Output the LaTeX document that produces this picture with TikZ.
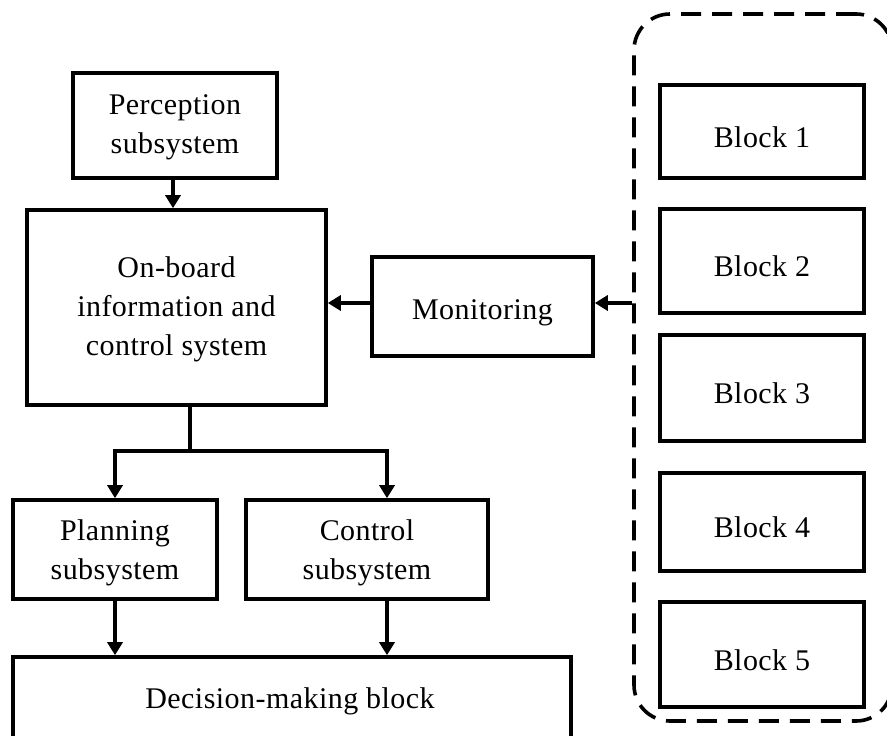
\documentclass[tikz,border=0pt]{standalone}
\usepackage{fontspec}
\setmainfont[LetterSpace=1.5]{Liberation Serif}
\usetikzlibrary{arrows.meta}

\begin{document}
\begin{tikzpicture}[x=1pt,y=-1pt,
  box/.style={draw, line width=3.6pt, rectangle, inner sep=0pt},
  txt/.style={font=\fontsize{30}{39}\selectfont, align=center, inner sep=0pt,
              execute at begin node=\strut, execute at end node=\strut},
  arr/.style={line width=3.6pt, -{Triangle[length=13pt,width=15pt]}},
  link/.style={line width=3.6pt},
  group/.style={draw, line width=3.6pt, rectangle, rounded corners=36pt,
                dash pattern=on 20pt off 11pt}]
  \useasboundingbox (0,0) rectangle (887,736);

  % frames of the main chain
  \node[box, minimum width=204pt, minimum height=105pt] (perc) at (175,125.5) {};
  \node[box, minimum width=299pt, minimum height=195pt] (onb) at (176.5,307.5) {};
  \node[box, minimum width=221pt, minimum height=99pt] (mon) at (482.5,306.5) {};
  \node[box, minimum width=204pt, minimum height=99pt] (plan) at (115,549.5) {};
  \node[box, minimum width=242pt, minimum height=99pt] (ctrl) at (367,549.5) {};
  \node[box, minimum width=558pt, minimum height=88pt] (dec) at (292,701) {};

  % captions of the main chain
  \node[txt] (perc-t) at ([yshift=-4pt]perc.center) {Perception\\subsystem};
  \node[txt] (onb-t)  at ([yshift=-4pt]onb.center)  {On-board\\information and\\control system};
  \node[txt] (mon-t)  at ([yshift=-5.5pt]mon.center) {Monitoring};
  \node[txt] (plan-t) at ([yshift=-5.5pt]plan.center) {Planning\\subsystem};
  \node[txt] (ctrl-t) at ([yshift=-5.5pt]ctrl.center) {Control\\subsystem};
  \node[txt] (dec-t)  at (290,701) {Decision-making block};

  % monitored blocks inside the dashed group
  \node[group, minimum width=258pt, minimum height=707pt] (grp) at (763,367.5) {};
  \node[box, minimum width=204pt, minimum height=93pt]  (b1) at (762,131.5) {};
  \node[box, minimum width=204pt, minimum height=104pt] (b2) at (762,261)   {};
  \node[box, minimum width=204pt, minimum height=106pt] (b3) at (762,388)   {};
  \node[box, minimum width=204pt, minimum height=98pt]  (b4) at (762,522)   {};
  \node[box, minimum width=204pt, minimum height=105pt] (b5) at (762,654.5) {};
  \foreach \b in {1,...,5}
    \node[txt] (b\b-t) at ([yshift=-8pt]b\b.center) {Block \b};

  % helper levels for the connectors
  \coordinate (ylev) at (0,303);
  \coordinate (xsplit) at (190,0);
  \coordinate (ysplit) at (0,451);
  \coordinate (xperc) at (173,0);
  \coordinate (xctrl) at (387,0);
  \coordinate (split) at (xsplit |- ysplit);

  % connectors
  \draw[arr] (perc.south -| xperc) -- (onb.north -| xperc);
  \draw[arr] (grp.west |- ylev) -- (mon.east |- ylev);
  \draw[arr] (mon.west |- ylev) -- (onb.east |- ylev);
  \draw[link] (onb.south -| xsplit) -- (split);
  \draw[arr] (split) -| (plan.north);
  \draw[arr] (split) -| (ctrl.north -| xctrl);
  \draw[arr] (plan.south) -- (dec.north -| plan.south);
  \draw[arr] (ctrl.south -| xctrl) -- (dec.north -| xctrl);
\end{tikzpicture}
\end{document}
